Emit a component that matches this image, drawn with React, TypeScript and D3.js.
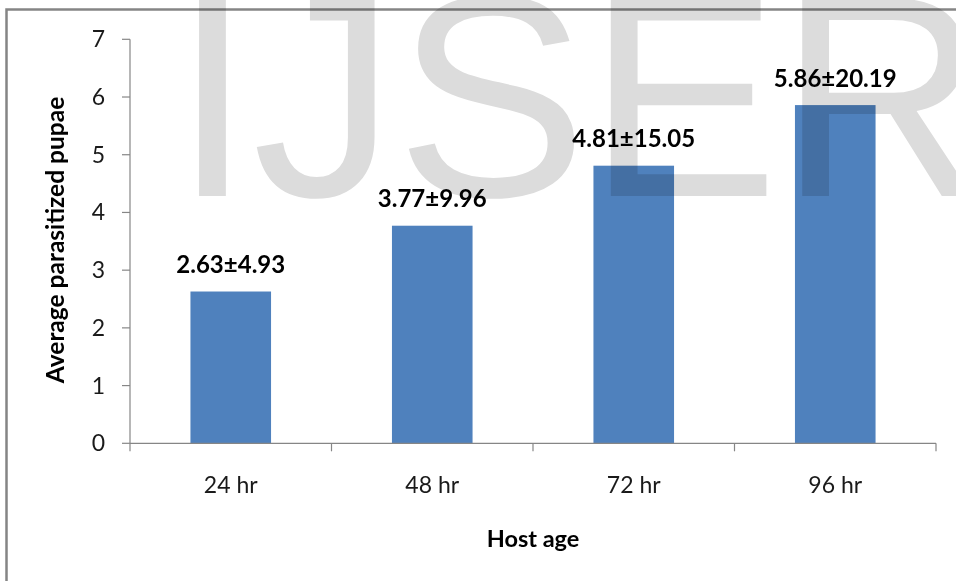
import React from "react";
import * as d3 from "d3";

// Host age groups and the average number of parasitized pupae (mean ± variance label)
const categories: string[] = ["24 hr", "48 hr", "72 hr", "96 hr"];
const means: number[] = [2.63, 3.77, 4.81, 5.86];
const spreads: number[] = [4.93, 9.96, 15.05, 20.19];
const yTicks: number[] = [0, 1, 2, 3, 4, 5, 6, 7];

const W = 956;
const H = 581;
const plot = { left: 130, right: 936, top: 39.3, bottom: 443.3 };

const barColor = "#4f81bd";
const axisColor = "#868686";
const textFont = "Lato, 'Open Sans', sans-serif";

export default function App() {
  const x = d3
    .scaleBand<string>()
    .domain(categories)
    .range([plot.left, plot.right])
    .paddingInner(0.6)
    .paddingOuter(0.3);

  const y = d3.scaleLinear().domain([0, 7]).range([plot.bottom, plot.top]);

  const step = x.step();
  const boundaries = d3.range(categories.length + 1).map((i) => plot.left + i * step);

  return (
    <svg
      width={W}
      height={H}
      viewBox={`0 0 ${W} ${H}`}
      style={{ position: "absolute", left: 0, top: 0, background: "#fff" }}
    >
      <rect x={0} y={0} width={W} height={H} fill="#fff" />

      {/* chart frame */}
      <rect
        x={6.5}
        y={9.5}
        width={W + 20}
        height={H + 20}
        fill="none"
        stroke="#858585"
        strokeWidth={2.5}
      />

      {/* bars */}
      {categories.map((c, i) => (
        <rect
          key={c}
          x={x(c)!}
          y={y(means[i])}
          width={x.bandwidth()}
          height={y(0) - y(means[i])}
          fill={barColor}
        />
      ))}

      {/* y axis */}
      <line x1={plot.left} x2={plot.left} y1={plot.top} y2={plot.bottom} stroke={axisColor} strokeWidth={1.2} />
      {yTicks.map((t) => (
        <g key={t}>
          <line x1={plot.left - 8} x2={plot.left} y1={y(t)} y2={y(t)} stroke={axisColor} strokeWidth={1.2} />
          <text
            x={105}
            y={y(t) + 8}
            textAnchor="end"
            fontFamily={textFont}
            fontSize={23}
            fill="#1a1a1a"
          >
            {t}
          </text>
        </g>
      ))}

      {/* x axis */}
      <line x1={plot.left} x2={plot.right} y1={plot.bottom} y2={plot.bottom} stroke={axisColor} strokeWidth={1.2} />
      {boundaries.map((bx, i) => (
        <line key={i} x1={bx} x2={bx} y1={plot.bottom} y2={plot.bottom + 8} stroke={axisColor} strokeWidth={1.2} />
      ))}
      {categories.map((c) => (
        <text
          key={c}
          x={x(c)! + x.bandwidth() / 2}
          y={493}
          textAnchor="middle"
          fontFamily={textFont}
          fontSize={23}
          fill="#1a1a1a"
        >
          {c}
        </text>
      ))}

      {/* value labels */}
      {categories.map((c, i) => (
        <text
          key={c}
          x={x(c)! + x.bandwidth() / 2}
          y={y(means[i]) - 18.5}
          textAnchor="middle"
          fontFamily={textFont}
          fontWeight="bold"
          fontSize={24}
          fill="#000"
        >
          {`${means[i].toFixed(2)}±${spreads[i].toFixed(2)}`}
        </text>
      ))}

      {/* axis titles */}
      <text
        transform={`translate(64, 240) rotate(-90)`}
        textAnchor="middle"
        fontFamily={textFont}
        fontWeight="bold"
        fontSize={24.5}
        fill="#000"
      >
        Average parasitized pupae
      </text>
      <text
        x={(plot.left + plot.right) / 2}
        y={547}
        textAnchor="middle"
        fontFamily={textFont}
        fontWeight="bold"
        fontSize={23.5}
        fill="#000"
      >
        Host age
      </text>

      {/* publisher watermark */}
      <text
        x={172.6}
        y={196}
        fontFamily="'Liberation Sans', Arial, sans-serif"
        fontSize={287}
        fill="#dcdcdc"
        style={{ mixBlendMode: "multiply" }}
      >
        IJSER
      </text>
    </svg>
  );
}
